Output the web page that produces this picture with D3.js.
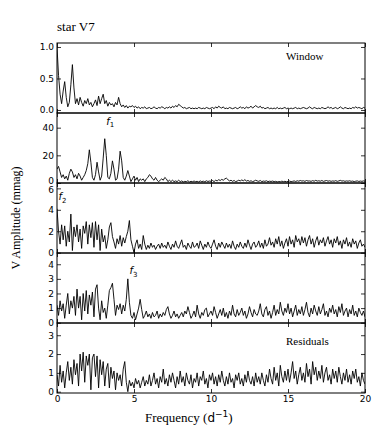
<!DOCTYPE html>
<html>
<head>
<meta charset="utf-8">
<script src="https://cdn.jsdelivr.net/npm/d3@7"></script>
<style>
  body { margin: 0; background: #fff; }
  .tick text { font-family: "DejaVu Sans", sans-serif; font-size: 9px; fill: #000; }
  .tick line { stroke: #000; stroke-width: 0.8; }
  .serif { font-family: "Liberation Serif", "Times New Roman", serif; fill: #000; }
</style>
</head>
<body>
<div id="chart"></div>
<script>
// amplitude spectra of star V7, sampled every 0.1 d^-1 from 0 to 20
var freqStep = 0.1;

var windowAmp = [
  1.00,0.55,0.25,0.10,0.30,0.45,0.20,0.05,0.12,0.40,
  0.72,0.35,0.10,0.18,0.08,0.20,0.12,0.06,0.15,0.10,
  0.18,0.08,0.12,0.05,0.10,0.16,0.07,0.22,0.10,0.18,
  0.25,0.10,0.15,0.06,0.12,0.08,0.10,0.05,0.12,0.08,
  0.20,0.10,0.05,0.08,0.04,0.07,0.03,0.06,0.05,0.07,
  0.04,0.06,0.03,0.05,0.02,0.04,0.03,0.05,0.02,0.03,
  0.04,0.02,0.03,0.05,0.03,0.02,0.04,0.03,0.05,0.04,
  0.02,0.04,0.03,0.05,0.03,0.06,0.04,0.07,0.05,0.09,
  0.07,0.05,0.03,0.04,0.02,0.03,0.04,0.02,0.03,0.02,
  0.03,0.02,0.04,0.03,0.02,0.03,0.02,0.04,0.03,0.02,
  0.03,0.04,0.02,0.05,0.03,0.06,0.04,0.03,0.05,0.02,
  0.03,0.02,0.04,0.03,0.02,0.03,0.04,0.02,0.03,0.05,
  0.03,0.04,0.02,0.05,0.03,0.04,0.06,0.03,0.05,0.07,
  0.05,0.04,0.06,0.03,0.04,0.02,0.03,0.04,0.02,0.03,
  0.02,0.03,0.02,0.04,0.02,0.03,0.02,0.03,0.04,0.02,
  0.03,0.02,0.03,0.02,0.03,0.04,0.02,0.03,0.02,0.03,
  0.04,0.03,0.02,0.03,0.05,0.03,0.02,0.04,0.03,0.02,
  0.03,0.02,0.04,0.03,0.02,0.03,0.05,0.03,0.04,0.02,
  0.03,0.04,0.02,0.03,0.05,0.03,0.02,0.04,0.03,0.02,
  0.03,0.02,0.04,0.03,0.05,0.03,0.04,0.03,0.02,0.04,
  0.03
];

var dataAmp = [
  10,12,8,4,6,3,5,2,7,10,
  8,4,6,3,7,5,2,4,6,9,
  14,24,15,4,2,6,15,8,2,5,
  18,32,20,4,3,7,16,10,2,3,
  10,23,16,4,2,5,9,5,1,3,
  5,2,4,1,3,2,3,1,3,4,
  6,5,3,2,4,2,1,2,3,2,
  4,3,1,2,1,2,1,1.5,1,2,
  1,1.5,0.8,1.2,1,1.6,0.8,1.2,1,1.4,
  1,1.2,0.8,1.5,1,1.3,0.9,1.6,1.1,1.4,
  1.2,1.8,1,2,1.5,2.4,1.8,2.6,2,3,
  3.5,2.4,1.5,2,1.2,1.8,1,1.4,2,1.5,
  2.2,1.6,2.4,1.4,1.8,1.2,1.6,1,1.4,2,
  1.5,1.2,1.8,1,1.4,1.2,1.6,1,1.3,1.1,
  1.4,1,1.2,0.8,1.1,0.9,1.3,1,1.2,0.9,
  1.1,1.4,1,1.2,1.5,1.1,1.6,1.3,1.8,1.4,
  1.6,1.2,1.8,1.4,1.5,1.2,1.7,1.3,1.9,1.4,
  1.6,1.3,1.8,1.2,1.5,1.8,1.3,1.6,1.2,1.5,
  1.3,1.7,1.2,1.5,1.9,1.4,1.6,1.2,1.5,1.3,
  1.6,1.2,1.4,1,1.3,1.5,1.1,1.4,1.2,1.5,
  1.3
];

var prewhite1Amp = [
  4.1,2.0,0.8,2.6,1.2,2.5,0.6,2.0,1.0,3.6,
  0.2,2.4,1.5,2.6,1.0,2.2,0.4,2.5,1.8,2.9,
  0.8,2.6,1.4,2.8,0.5,2.9,1.2,2.6,0.2,2.2,
  1.0,1.6,0.4,1.2,2.4,2.8,1.5,1.0,0.4,1.3,
  0.8,1.6,0.6,1.4,0.9,1.5,2.0,3.0,1.2,0.6,
  0.0,0.8,1.2,0.4,0.8,0.3,1.6,0.8,0.3,0.7,
  0.4,0.9,0.5,0.7,0.3,0.6,0.8,0.4,0.9,0.5,
  0.7,0.4,1.0,0.6,0.3,0.8,0.5,1.1,0.6,0.4,
  0.8,1.2,0.5,0.7,0.3,0.9,0.6,0.4,1.0,0.5,
  0.6,0.9,0.4,1.1,0.7,0.3,0.8,0.5,1.0,0.6,
  0.4,0.8,1.2,0.6,0.3,0.9,0.5,1.0,0.7,0.4,
  0.9,0.5,0.8,0.4,1.1,0.6,0.3,0.8,0.5,1.0,
  0.6,0.4,0.9,0.5,1.2,0.7,0.3,0.8,1.0,0.5,
  0.7,1.1,0.5,0.9,0.4,1.2,0.6,0.8,1.4,0.7,
  1.0,0.5,1.3,0.8,1.5,0.6,1.1,0.4,0.9,1.3,
  0.6,1.5,0.8,1.2,0.5,1.6,1.0,1.3,0.7,1.5,
  0.9,1.4,0.6,1.2,1.6,0.8,1.3,0.5,1.1,1.5,
  0.7,1.2,0.9,1.4,0.6,1.1,1.5,0.8,1.2,0.5,
  1.3,0.9,1.5,0.7,1.1,0.4,1.2,0.8,1.4,0.6,
  1.0,0.5,1.3,0.8,1.1,0.4,0.9,1.2,0.6,0.8,
  0.5
];

var prewhite2Amp = [
  1.2,0.5,1.5,0.8,1.3,0.3,1.2,2.0,0.6,1.5,
  1.0,1.8,0.5,2.3,1.0,1.8,0.2,2.0,0.8,2.2,
  0.6,1.9,1.2,2.1,0.4,2.3,2.6,1.0,0.2,1.5,
  0.7,1.0,0.3,1.2,2.2,2.4,2.7,1.6,0.5,1.2,
  0.9,1.3,0.6,1.2,0.8,1.6,3.0,1.4,0.5,0.3,
  0.7,0.2,0.6,1.0,1.6,0.9,0.3,0.5,0.8,0.4,
  0.6,0.3,0.7,0.4,0.5,0.8,0.3,0.6,0.4,0.7,
  0.5,0.9,1.1,0.6,0.3,0.5,0.8,0.4,0.6,0.3,
  0.5,0.7,0.4,0.8,0.6,1.1,0.7,0.3,0.5,0.8,
  0.4,1.2,0.6,0.3,0.7,0.5,0.9,1.0,0.4,0.6,
  0.8,0.5,1.1,0.7,0.3,0.6,0.9,0.5,1.0,0.4,
  0.7,0.3,0.8,0.5,1.2,0.6,0.4,0.9,0.5,0.7,
  1.0,0.5,0.8,0.3,0.6,1.1,0.7,0.4,0.9,0.6,
  0.5,0.8,1.3,0.6,0.4,0.9,1.1,0.5,0.8,0.3,
  0.7,1.2,0.5,0.9,0.6,1.4,0.8,0.5,1.0,0.7,
  1.3,0.6,1.0,0.4,0.8,1.2,0.5,0.9,0.6,1.1,
  0.5,0.9,1.4,0.7,0.4,1.0,0.6,1.2,0.8,0.5,
  1.1,0.6,0.9,1.3,0.5,0.8,0.4,1.0,0.7,1.2,
  0.6,0.9,0.4,1.1,0.7,1.3,0.5,0.8,1.0,0.4,
  0.9,0.6,1.2,0.5,0.8,0.4,1.0,0.7,0.5,0.8,
  0.4
];

var residualAmp = [
  0.9,0.3,1.4,0.5,1.1,0.2,1.0,1.6,0.6,1.3,
  0.4,1.7,0.9,1.5,0.3,2.0,1.1,2.1,0.5,1.9,
  1.4,2.0,0.1,1.8,2.0,0.8,1.9,0.2,1.7,0.9,
  1.6,0.3,1.2,1.5,0.2,1.3,0.7,1.1,0.1,1.0,
  0.6,0.9,0.3,1.2,1.6,0.5,0.0,0.6,0.3,0.5,
  0.2,0.7,0.4,0.6,0.2,0.5,0.8,0.3,0.6,0.4,
  0.9,0.3,0.6,1.0,0.4,0.7,0.2,0.8,0.5,1.2,
  0.4,0.7,0.3,0.9,0.5,1.0,0.6,0.2,0.8,0.4,
  1.1,0.5,0.8,0.3,1.0,0.6,0.4,0.9,0.2,0.7,
  0.5,1.0,0.3,0.8,0.6,1.1,0.4,0.7,0.2,0.9,
  0.6,1.0,0.4,0.8,0.3,0.9,0.5,1.1,0.6,0.3,
  0.8,0.4,1.0,0.5,0.7,0.2,0.9,0.6,1.0,0.4,
  0.7,0.3,0.9,0.5,1.1,0.6,0.4,0.8,0.3,1.0,
  0.5,0.8,0.4,1.0,0.6,0.3,0.9,0.5,1.2,0.7,
  0.4,1.3,0.6,1.0,0.3,1.4,0.8,0.5,1.1,0.6,
  1.2,0.5,1.0,1.6,0.7,1.1,0.4,0.9,1.3,0.6,
  1.0,0.5,1.5,0.8,1.2,0.4,1.6,0.9,1.3,0.6,
  1.1,0.7,1.4,0.5,1.0,1.3,0.6,0.9,0.4,1.2,
  0.7,1.1,0.5,1.3,0.8,0.4,1.0,0.6,1.2,0.5,
  0.9,0.4,1.1,0.7,1.2,0.5,0.8,0.3,1.0,0.6,
  0.4
];

var xTicks = [0, 5, 10, 15, 20];

// panel setup
var svgWidth = 382;
var svgHeight = 436;
var margin = { top: 43, right: 17, bottom: 43, left: 57 };
var width = svgWidth - margin.left - margin.right;
var panelH = 70;

var panels = [
  { data: windowAmp, domain: [-0.048, 1.063], ticks: [0, 0.5, 1.0], fmt: d3.format(".1f"), note: "Window" },
  { data: dataAmp, domain: [0, 50.6], ticks: [0, 20, 40], fmt: d3.format("d"), f: "1", fx: 3.2, fy: 42 },
  { data: prewhite1Amp, domain: [-0.03, 6.5], ticks: [0, 2, 4, 6], fmt: d3.format("d"), f: "2", fx: 0.1, fy: 4.9 },
  { data: prewhite2Amp, domain: [-0.02, 4.77], ticks: [0, 1, 2, 3, 4], fmt: d3.format("d"), f: "3", fx: 4.7, fy: 3.3 },
  { data: residualAmp, domain: [-0.07, 3.65], ticks: [0, 1, 2, 3], fmt: d3.format("d"), note: "Residuals" }
];

panels.forEach(function(p) {
  if (p.data.length !== 201) throw new Error("bad length " + p.data.length);
});

var svg = d3.select("#chart")
  .append("svg")
  .attr("width", svgWidth)
  .attr("height", svgHeight);

svg.append("rect").attr("width", svgWidth).attr("height", svgHeight).attr("fill", "#fff");

var xScale = d3.scaleLinear().domain([0, 20]).range([0, width]);

panels.forEach(function(p, i) {
  var g = svg.append("g")
    .attr("transform", `translate(${margin.left}, ${margin.top + i * panelH})`);

  var yScale = d3.scaleLinear().domain(p.domain).range([panelH, 0]);

  g.append("clipPath").attr("id", "clip" + i)
    .append("rect").attr("width", width).attr("height", panelH);

  var line = d3.line()
    .x((d, k) => xScale(k * freqStep))
    .y(d => yScale(d));

  g.append("path")
    .datum(p.data)
    .attr("clip-path", `url(#clip${i})`)
    .attr("fill", "none")
    .attr("stroke", "#000")
    .attr("stroke-width", 0.9)
    .attr("stroke-linejoin", "round")
    .attr("d", line);

  // axes, ticks pointing inward
  var left = g.append("g")
    .call(d3.axisLeft(yScale).tickValues(p.ticks).tickFormat(p.fmt).tickSizeInner(-4).tickSizeOuter(0).tickPadding(3));
  // keep the edge labels of neighbouring panels from running into each other
  left.selectAll(".tick text")
    .attr("dy", d => {
      if (i === 1 && d === 0) return "0.1em";
      if (i === 2 && d === 6) return "0.45em";
      return "0.32em";
    });
  g.append("g")
    .attr("transform", `translate(${width}, 0)`)
    .call(d3.axisRight(yScale).tickValues(p.ticks).tickFormat("").tickSizeInner(-4).tickSizeOuter(0));
  g.append("g")
    .call(d3.axisTop(xScale).tickValues(xTicks).tickFormat("").tickSizeInner(-4).tickSizeOuter(0));
  g.append("g")
    .attr("transform", `translate(0, ${panelH})`)
    .call(d3.axisBottom(xScale).tickValues(xTicks).tickSizeInner(-4).tickSizeOuter(0).tickPadding(3)
      .tickFormat(i === panels.length - 1 ? d3.format("d") : ""));
  g.selectAll(".domain").remove();

  g.append("rect")
    .attr("width", width)
    .attr("height", panelH)
    .attr("fill", "none")
    .attr("stroke", "#000")
    .attr("stroke-width", 1);

  if (p.note) {
    g.append("text")
      .attr("class", "serif")
      .attr("x", 229)
      .attr("y", i === 0 ? 17 : 22)
      .attr("font-size", "11px")
      .text(p.note);
  }

  if (p.f) {
    var t = g.append("text")
      .attr("x", xScale(p.fx))
      .attr("y", yScale(p.fy))
      .attr("font-family", "DejaVu Sans, sans-serif")
      .attr("font-size", "10px");
    t.append("tspan").attr("font-style", "italic").text("f");
    t.append("tspan").attr("font-size", "7px").attr("dy", 2.5).text(p.f);
  }
});

// title and axis labels
svg.append("text")
  .attr("class", "serif")
  .attr("x", 57)
  .attr("y", 31)
  .attr("font-size", "13px")
  .text("star V7");

svg.append("text")
  .attr("class", "serif")
  .attr("transform", `translate(20, 218) rotate(-90)`)
  .attr("text-anchor", "middle")
  .attr("font-size", "12px")
  .text("V Amplitude (mmag)");

var xl = svg.append("text")
  .attr("class", "serif")
  .attr("x", 145)
  .attr("y", 422)
  .attr("font-size", "13px");
xl.append("tspan").text("Frequency (");
xl.append("tspan").attr("font-family", "DejaVu Sans, sans-serif").attr("font-size", "12px").text("d");
xl.append("tspan").attr("font-family", "DejaVu Sans, sans-serif").attr("font-size", "9px").attr("dy", -5).text("\u22121");
xl.append("tspan").attr("dy", 5).text(")");
</script>
</body>
</html>
